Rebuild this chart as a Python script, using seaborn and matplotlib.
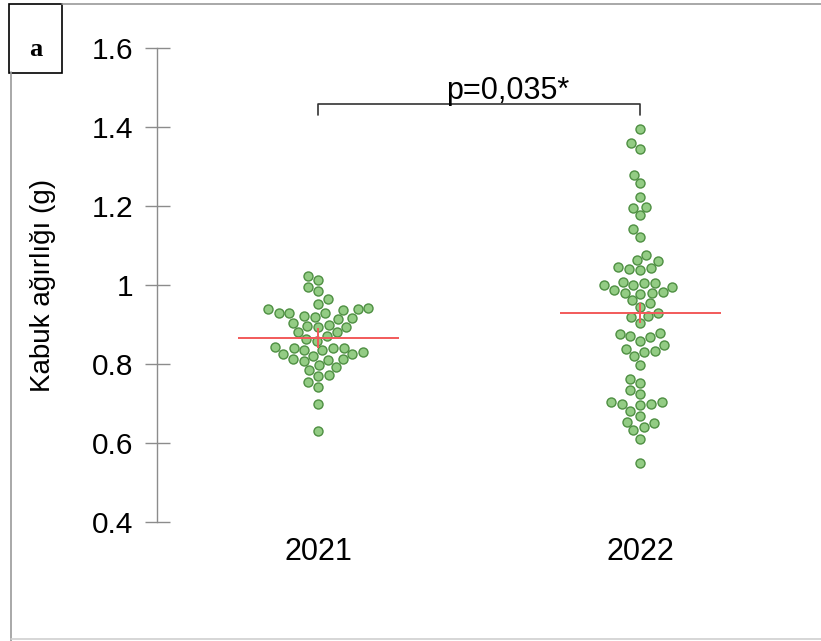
import matplotlib
matplotlib.use("Agg")
import matplotlib.pyplot as plt
from matplotlib.lines import Line2D
from matplotlib.patches import Rectangle
import seaborn as sns
import pandas as pd
import numpy as np

years = ["2021", "2022"]
values_2021 = [1.024, 1.013, 0.995, 0.985, 0.965, 0.952, 0.914, 0.922, 0.939, 0.929,
               0.942, 0.939, 0.929, 0.937, 0.929, 0.919, 0.916, 0.904, 0.894, 0.896,
               0.881, 0.899, 0.881, 0.894, 0.871, 0.863, 0.858, 0.841, 0.841, 0.835,
               0.835, 0.830, 0.843, 0.841, 0.825, 0.825, 0.810, 0.813, 0.808, 0.820,
               0.813, 0.797, 0.770, 0.792, 0.772, 0.754, 0.742, 0.699, 0.630, 0.785]
values_2022 = [1.395, 1.359, 1.344, 1.279, 1.257, 1.223, 1.198, 1.196, 1.176, 1.141,
               1.121, 1.063, 1.076, 1.061, 1.042, 1.045, 1.041, 1.038, 0.999, 0.978,
               1.005, 0.981, 1.008, 0.987, 1.006, 0.983, 0.999, 0.980, 0.996, 0.961,
               0.944, 0.954, 0.919, 0.928, 0.922, 0.903, 0.870, 0.830, 0.875, 0.838,
               0.857, 0.820, 0.798, 0.878, 0.847, 0.869, 0.832, 0.761, 0.734, 0.753,
               0.724, 0.699, 0.704, 0.682, 0.696, 0.669, 0.703, 0.699, 0.654, 0.641,
               0.632, 0.650, 0.611, 0.549]
ytick_values = [0.4, 0.6, 0.8, 1.0, 1.2, 1.4, 1.6]
ytick_labels = ["0.4", "0.6", "0.8", "1", "1.2", "1.4", "1.6"]
ylabel = "Kabuk ağırlığı (g)"
p_text = "p=0,035*"

df = pd.DataFrame({
    "year": [years[0]] * len(values_2021) + [years[1]] * len(values_2022),
    "value": values_2021 + values_2022,
})

sns.set_style("white")
plt.rcParams["font.family"] = ["Liberation Sans", "DejaVu Sans"]
plt.rcParams["text.color"] = "black"
plt.rcParams["axes.labelcolor"] = "black"
plt.rcParams["xtick.color"] = "black"
plt.rcParams["ytick.color"] = "black"

fig = plt.figure(figsize=(8.21, 6.41), dpi=100)
ax = fig.add_axes([157 / 821, 1 - 522 / 641, 644 / 821, 474 / 641])

sns.swarmplot(data=df, x="year", y="value", order=years, ax=ax, size=6.5,
              color="#93cc84", edgecolor="#4e8f42", linewidth=1.0, zorder=3)

means = [float(np.mean(values_2021)), float(np.mean(values_2022))]
for i, m in enumerate(means):
    ax.hlines(m, i - 0.25, i + 0.25, color="#f25a5a", lw=1.4, zorder=4)
sns.pointplot(data=df, x="year", y="value", order=years, ax=ax, errorbar=None,
              markers="+", markersize=14, linestyle="none", color="#f25a5a",
              markeredgewidth=1.4, zorder=5)

ax.set_xlim(-0.5, 1.5)
ax.set_ylim(0.4, 1.6)
ax.set_yticks(ytick_values)
ax.set_yticklabels(ytick_labels)
ax.set_xlabel("")
ax.set_ylabel(ylabel, fontsize=20, labelpad=26, color="black")
ax.tick_params(axis="y", direction="inout", length=18, width=1, color="#8c8c8c",
               labelcolor="black", labelsize=21.5, pad=8, left=True)
ax.tick_params(axis="x", length=0, labelsize=22, pad=11, labelcolor="black")
for s in ["top", "right", "bottom"]:
    ax.spines[s].set_visible(False)
ax.spines["left"].set_color("#8c8c8c")
ax.spines["left"].set_linewidth(1)
ax.patch.set_alpha(0)

# significance bracket
ax.plot([0, 0, 1, 1], [1.430, 1.458, 1.458, 1.430], color="#333333", lw=1.2,
        clip_on=False)
ax.text(0.589, 1.470, p_text, ha="center", va="baseline", fontsize=22, color="black")

# outer frame
fig.add_artist(Line2D([62 / 821, 1], [1 - 4 / 641, 1 - 4 / 641], color="#9a9a9a", lw=1.2))
fig.add_artist(Line2D([11 / 821, 11 / 821], [0, 1 - 72 / 641], color="#9a9a9a", lw=1.2))
fig.add_artist(Line2D([11 / 821, 1], [2 / 641, 2 / 641], color="#d0d0d0", lw=1.2))
fig.add_artist(Rectangle((9 / 821, 1 - 73 / 641), 53 / 821, 69 / 641,
                         transform=fig.transFigure, fill=False, edgecolor="black", lw=1.2))
fig.text(36 / 821, 1 - 50 / 641, "a", ha="center", va="center", fontsize=19,
         fontweight="bold", family=["Liberation Serif", "DejaVu Serif"], color="black")

fig.savefig("out.png", dpi=100)
